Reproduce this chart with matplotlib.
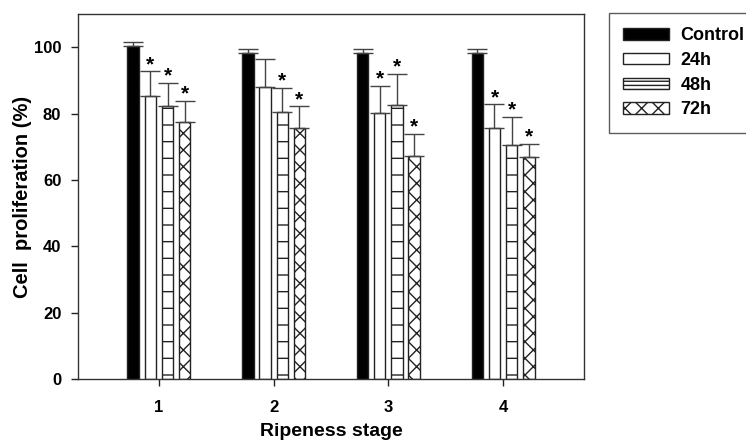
import numpy as np
import matplotlib
matplotlib.use('Agg')
import matplotlib.pyplot as plt
from matplotlib.patches import Patch

plt.rcParams['font.family'] = 'Liberation Sans'
plt.rcParams['font.weight'] = 'bold'
plt.rcParams['hatch.linewidth'] = 1.0

stages = [1, 2, 3, 4]
series = ['Control', '24h', '48h', '72h']

control = [100.3, 98.3, 98.2, 98.2]
h24 = [85.4, 88.0, 80.1, 75.7]
h48 = [82.4, 80.6, 82.6, 70.4]
h72 = [77.5, 75.6, 67.3, 66.9]

control_err = [1.2, 1.2, 1.3, 1.3]
h24_err = [7.3, 8.5, 8.3, 7.1]
h48_err = [6.8, 7.1, 9.4, 8.7]
h72_err = [6.4, 6.6, 6.6, 3.9]

# significance marks (1 = star)
h24_sig = [1, 0, 1, 1]
h48_sig = [1, 1, 1, 1]
h72_sig = [1, 1, 1, 1]

values = [control, h24, h48, h72]
errors = [control_err, h24_err, h48_err, h72_err]
sigs = [[0, 0, 0, 0], h24_sig, h48_sig, h72_sig]
faces = ['black', 'white', 'white', 'white']
hatches = [None, None, '-', 'xx']
# legend swatches are small, so they get a finer pattern
leg_hatches = [None, None, '----', 'xx']
offsets = [-0.225, -0.075, 0.075, 0.225]

fig = plt.figure(figsize=(7.46, 4.46), dpi=100)
ax = fig.add_axes([0.1046, 0.1502, 0.6782, 0.8184])

x = np.array(stages, dtype=float)
for vals, errs, sg, fc, ht, off, name in zip(values, errors, sigs, faces, hatches, offsets, series):
    ax.bar(x + off, vals, width=0.1, color=fc, edgecolor='#222222',
           linewidth=1.0, hatch=ht, label=name, zorder=2)
    ax.errorbar(x + off, vals, yerr=[np.zeros(len(errs)), errs], fmt='none',
                ecolor='#444444', elinewidth=1.0, capsize=7.5, capthick=1.0, zorder=3)
    for xi, v, e, s in zip(x + off, vals, errs, sg):
        if s:
            ax.annotate('*', (xi, v + e), xytext=(0, -2), textcoords='offset points',
                        ha='center', va='bottom', fontsize=15, fontweight='bold')

ax.set_xlim(0.295, 4.705)
ax.set_ylim(0, 110)
ax.set_xticks(stages)
ax.set_yticks([0, 20, 40, 60, 80, 100])
ax.tick_params(axis='both', direction='out', length=5, width=1, colors='#222222',
               labelsize=12, labelcolor='black')
ax.tick_params(axis='x', pad=10)
ax.tick_params(axis='y', pad=7)
for sp in ax.spines.values():
    sp.set_color('#333333')
    sp.set_linewidth(1.0)

ax.set_xlabel('Ripeness stage', fontsize=14, fontweight='bold', labelpad=6)
ax.set_ylabel('Cell  proliferation (%)', fontsize=14.5, fontweight='bold', labelpad=1)

handles = [Patch(facecolor=fc, edgecolor='#222222', hatch=lh, linewidth=1.0)
           for fc, lh in zip(faces, leg_hatches)]
leg = fig.legend(handles=handles, labels=series, loc='upper left',
                 bbox_to_anchor=(609 / 746, 1 - 12.7 / 446),
                 prop={'size': 13, 'weight': 'bold'}, frameon=True, fancybox=False,
                 handlelength=2.55, handleheight=0.6, handletextpad=0.6,
                 labelspacing=0.43, borderpad=0.8, borderaxespad=0)
leg.get_frame().set_edgecolor('#333333')
leg.get_frame().set_linewidth(1.0)

fig.savefig('out.png', dpi=100)
